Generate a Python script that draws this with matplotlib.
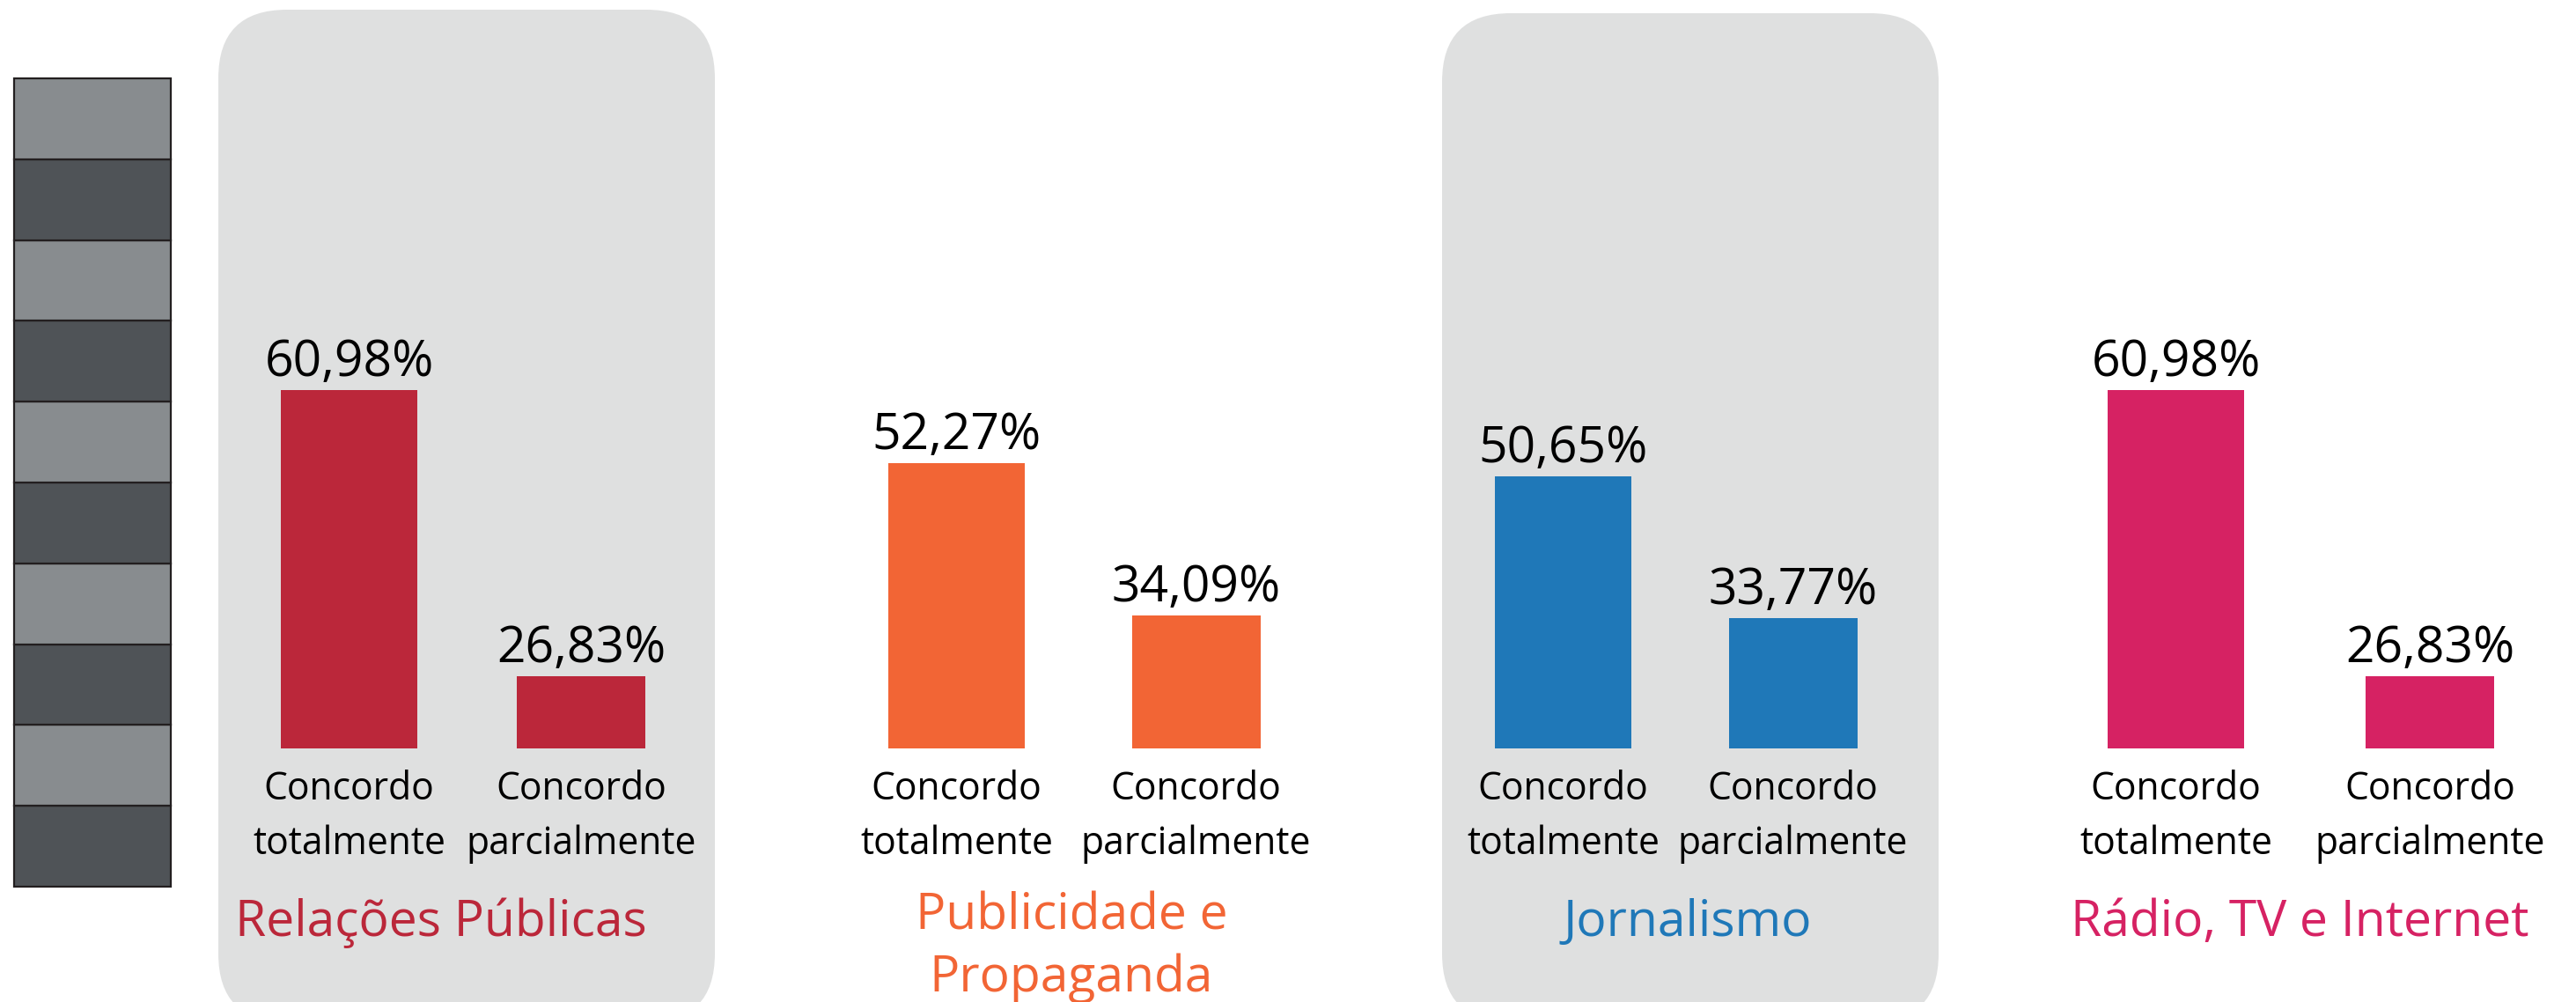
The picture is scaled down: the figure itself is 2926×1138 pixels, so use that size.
import matplotlib
matplotlib.use('Agg')
import matplotlib.pyplot as plt
from matplotlib.patches import FancyBboxPatch

plt.rcParams['font.family'] = ['Open Sans', 'DejaVu Sans']

# dados
cursos = ['Relações Públicas', 'Publicidade e\nPropaganda', 'Jornalismo', 'Rádio, TV e Internet']
respostas = ['Concordo\ntotalmente', 'Concordo\nparcialmente']
totalmente = [60.98, 52.27, 50.65, 60.98]
parcialmente = [26.83, 34.09, 33.77, 26.83]
cores = ['#bb273a', '#f26535', '#1f78b8', '#d62263']
faixas = ['#4f5357', '#888c8f'] * 5   # de baixo para cima

W, H, DPI = 2926, 1138, 100
fig = plt.figure(figsize=(W / DPI, H / DPI), dpi=DPI)
fig.patch.set_facecolor('white')

# layout (em pixels da imagem)
centros = [(396.5, 660), (1086.5, 1358.5), (1775.5, 2036.5), (2471.5, 2760)]
larg = (155, 146)
base_px, altura_px = 850, 750
px_por_pct = 9.517
y0 = 18.2
titulo_x = [501, 1217, 1917, 2612]
titulo_base = [1063, 1126, 1063, 1063]   # baseline da última linha

# painéis cinza arredondados (polegadas)
for x0, x1, top in [(248, 812, 11), (1638, 2202, 15)]:
    p = FancyBboxPatch((x0 / DPI, -0.23), (x1 - x0) / DPI, (H - top) / DPI + 0.23,
                       boxstyle='round,pad=0,rounding_size=0.78',
                       transform=fig.dpi_scale_trans, facecolor='#dfe0e0',
                       edgecolor='none', zorder=-10)
    fig.patches.append(p)

# barra listrada à esquerda
axs = fig.add_axes([16 / W, 1 - 1007 / H, (194 - 16) / W, (1007 - 89) / H])
axs.bar([0] * len(faixas), [1] * len(faixas), bottom=list(range(len(faixas))),
        width=1, color=faixas, edgecolor='#231f20', linewidth=1.6, clip_on=False)
axs.set_xlim(-0.5, 0.5)
axs.set_ylim(0, len(faixas))
axs.axis('off')

for i, curso in enumerate(cursos):
    c1, c2 = centros[i]
    d = c2 - c1
    left = c1 - d / 2
    ax = fig.add_axes([left / W, 1 - base_px / H, 2 * d / W, altura_px / H])
    ax.patch.set_alpha(0)
    vals = [totalmente[i], parcialmente[i]]
    ax.bar([0, 1], vals, width=[larg[0] / d, larg[1] / d], color=cores[i], zorder=2)
    ax.set_xlim(-0.5, 1.5)
    ax.set_ylim(y0, y0 + altura_px / px_por_pct)
    for x, v in zip([0, 1], vals):
        ax.annotate(f'{v:.2f}%'.replace('.', ','), (x, v), xytext=(0, 11.5),
                    textcoords='offset points', ha='center', va='baseline',
                    fontsize=41, color='black')
    ax.set_xticks([0, 1], respostas)
    ax.tick_params(axis='x', length=0, pad=18, labelsize=30.7)
    for lab in ax.get_xticklabels():
        lab.set_linespacing(1.5)
    ax.set_yticks([])
    for s in ax.spines.values():
        s.set_visible(False)

    fig.text(titulo_x[i] / W, 1 - titulo_base[i] / H, curso, ha='center',
             va='baseline', fontsize=41, color=cores[i], linespacing=1.3)

fig.savefig('out.png', dpi=DPI)
